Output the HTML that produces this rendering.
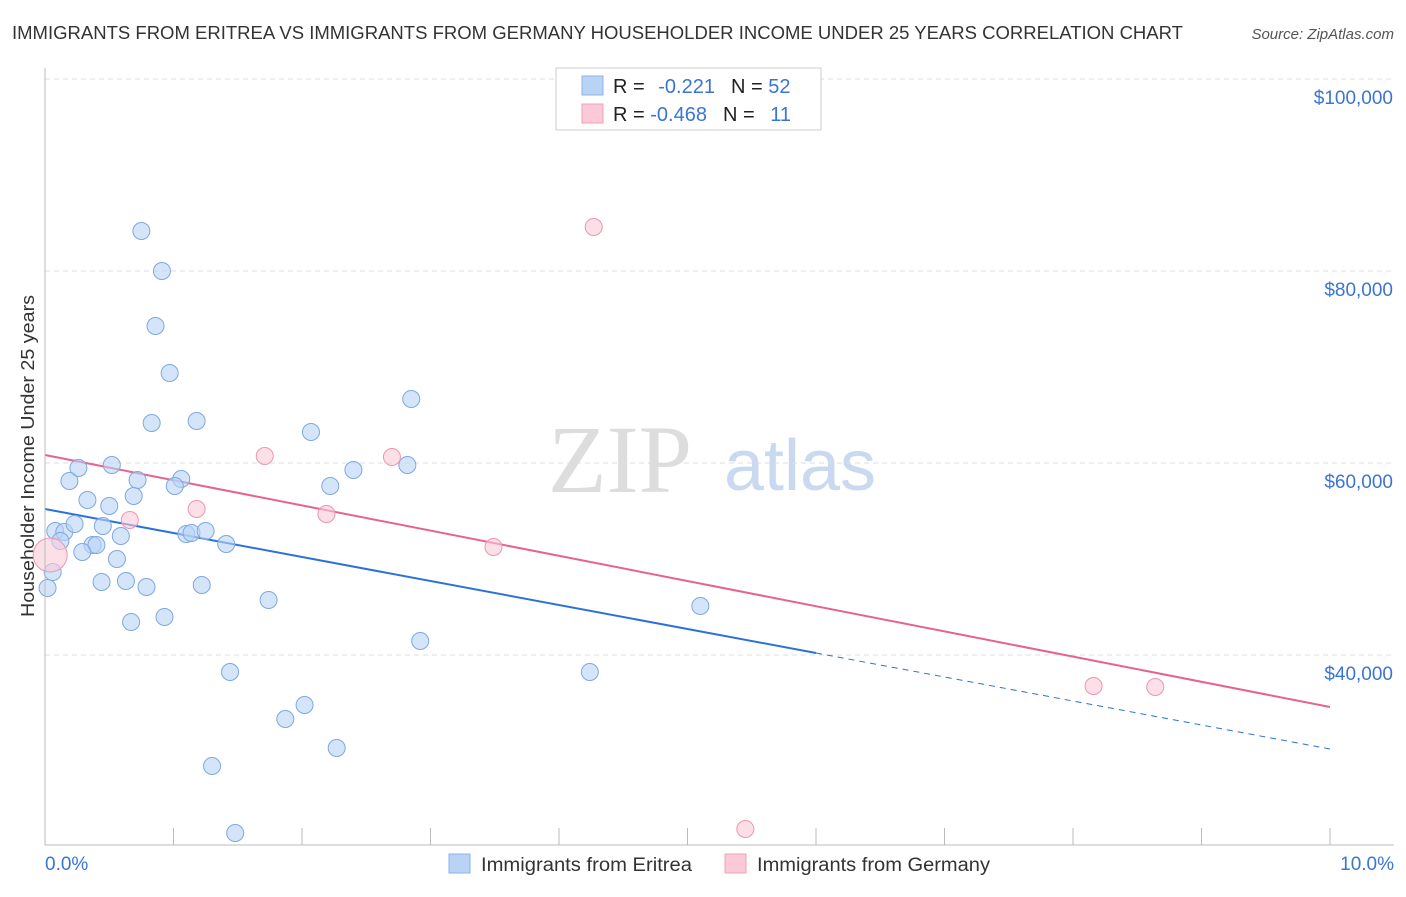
<!DOCTYPE html>
<html><head><meta charset="utf-8"><style>
body{margin:0;background:#fff;font-family:"Liberation Sans",sans-serif;}
</style></head><body>
<svg id="c" width="1406" height="892" xmlns="http://www.w3.org/2000/svg">
<text x="12" y="39" font-size="18" fill="#333" textLength="1171" lengthAdjust="spacingAndGlyphs">IMMIGRANTS FROM ERITREA VS IMMIGRANTS FROM GERMANY HOUSEHOLDER INCOME UNDER 25 YEARS CORRELATION CHART</text>
<text x="1394" y="39" font-size="15" fill="#555" font-style="italic" text-anchor="end">Source: ZipAtlas.com</text>
<text x="620" y="492" font-size="96" fill="#ddd" font-family="Liberation Serif,serif" text-anchor="middle">ZIP</text>
<text x="800" y="490" font-size="72" fill="#c9d9ef" text-anchor="middle">atlas</text>
<text transform="translate(34,456) rotate(-90)" font-size="18" fill="#333" text-anchor="middle" textLength="322" lengthAdjust="spacingAndGlyphs">Householder Income Under 25 years</text>
<g id="grid"></g><g id="lines"></g><g id="pts"></g>
<line x1="45" y1="68" x2="45" y2="845" stroke="#bbb"/>
<line x1="45" y1="845" x2="1394" y2="845" stroke="#bbb"/>
<text x="45" y="870" font-size="19" fill="#3a75d4">0.0%</text>
<text x="1394" y="870" font-size="19" fill="#3a75d4" text-anchor="end">10.0%</text>
<g>
<rect x="556" y="68" width="265" height="62" fill="#fff" stroke="#ccc"/>
<rect x="582" y="76" width="21" height="19" fill="#b9d3f5" stroke="#8db3e8"/>
<rect x="582" y="104" width="21" height="19" fill="#fbc9d8" stroke="#f0a0ba"/>
<text x="613" y="93" font-size="20" fill="#222">R = <tspan fill="#3a75d4" dx="8">-0.221</tspan><tspan dx="16" fill="#222">N = </tspan><tspan fill="#3a75d4">52</tspan></text>
<text x="613" y="121" font-size="20" fill="#222">R = <tspan fill="#3a75d4">-0.468</tspan><tspan dx="16" fill="#222">N = </tspan><tspan fill="#3a75d4" dx="10">11</tspan></text>
</g>
<rect x="449" y="854" width="21" height="19" fill="#b9d3f5" stroke="#8db3e8"/>
<text x="481" y="871" font-size="19" fill="#333" textLength="211" lengthAdjust="spacingAndGlyphs">Immigrants from Eritrea</text>
<rect x="725" y="854" width="21" height="19" fill="#fbc9d8" stroke="#f0a0ba"/>
<text x="757" y="871" font-size="19" fill="#333" textLength="233" lengthAdjust="spacingAndGlyphs">Immigrants from Germany</text>
</svg>
<script>
const yTicks=[40000,60000,80000,100000];
const yTickLabels=["$40,000","$60,000","$80,000","$100,000"];
const xTicks=[1,2,3,4,5,6,7,8,9,10];
const blueX=[0.75,0.91,0.86,0.97,0.83,1.18,2.85,2.07,0.26,0.52,0.19,0.72,1.06,1.01,2.40,2.82,2.22,0.33,0.50,0.69,0.08,0.15,0.23,0.45,0.59,1.10,1.14,1.25,1.41,0.37,0.40,0.12,0.29,0.56,0.06,0.02,0.44,0.63,0.79,1.22,1.74,0.93,0.67,5.10,2.92,1.44,4.24,2.02,1.87,2.27,1.30,1.48];
const blueY=[84167,80000,74271,69375,64167,64375,66667,63229,59479,59792,58125,58229,58333,57604,59271,59792,57604,56146,55521,56563,52917,52813,53646,53438,52396,52604,52708,52917,51563,51458,51458,51875,50729,50000,48646,46979,47604,47708,47083,47292,45729,43958,43438,45104,41458,38229,38229,34792,33333,30313,28438,21458];
const pinkX=[0.04,0.66,1.18,1.71,2.70,2.19,3.49,4.27,8.16,8.64,5.45];
const pinkY=[50417,54063,55208,60729,60625,54688,51250,84583,36771,36667,21875];
const blueTrend=[55208,30208];
const pinkTrend=[60833,34583];
const blueSolidEnd=6.0;
const X=v=>45+v*128.5, Y=v=>79+(100000-v)*192/20000;
const NS="http://www.w3.org/2000/svg";
function mk(t,a,p){const e=document.createElementNS(NS,t);for(const k in a)e.setAttribute(k,a[k]);p.appendChild(e);return e;}
const g=document.getElementById('grid');
yTicks.forEach((v,i)=>{
 const l=mk('line',{x1:45,x2:1394,y1:Y(v),y2:Y(v),stroke:'#ddd','stroke-dasharray':'5,4'},g);
 
 
 const t=mk('text',{x:1393,y:Y(v)+25,'font-size':19,fill:'#3a75d4','text-anchor':'end'},g);
 t.textContent=yTickLabels[i];
 
 
});
xTicks.forEach(v=>{
 const l=mk('line',{x1:X(v),x2:X(v),y1:828,y2:845,stroke:'#bbb'},g);
 
 
});
const L=document.getElementById('lines');
const by=x=>blueTrend[0]+(blueTrend[1]-blueTrend[0])*x/10;
const py=x=>pinkTrend[0]+(pinkTrend[1]-pinkTrend[0])*x/10;
const p=document.getElementById('pts');
function dots(xs,ys,fill,stroke,name){xs.forEach((x,i)=>{
 const c=mk('circle',{cx:X(x),cy:Y(ys[i]),r:(name==='germany-point'&&i===0)?17:8.5,fill:fill,stroke:stroke,'stroke-width':1,'fill-opacity':0.6},p);
 
 
});}
dots(blueX,blueY,'#b9d3f5','#7ea8e0','eritrea-point');
dots(pinkX,pinkY,'#fbc9d8','#eb96b2','germany-point');
let a=mk('line',{x1:X(0),y1:Y(by(0)),x2:X(blueSolidEnd),y2:Y(by(blueSolidEnd)),stroke:'#2c72d6','stroke-width':2},L);


a=mk('line',{x1:X(blueSolidEnd),y1:Y(by(blueSolidEnd)),x2:X(10),y2:Y(by(10)),stroke:'#2c72d6','stroke-width':1,'stroke-dasharray':'6,5'},L);


a=mk('line',{x1:X(0),y1:Y(py(0)),x2:X(10),y2:Y(py(10)),stroke:'#e5638e','stroke-width':2},L);


</script>
</body></html>
